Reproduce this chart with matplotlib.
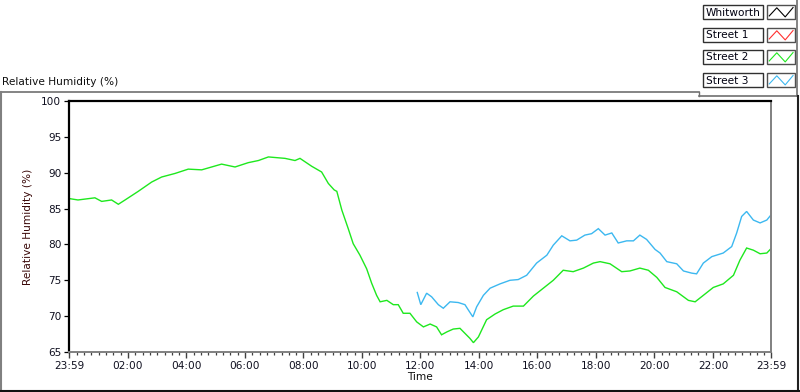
import matplotlib
matplotlib.use("Agg")
import matplotlib.pyplot as plt
from matplotlib.patches import Rectangle
from matplotlib.lines import Line2D
import numpy as np

# ---------------- data ----------------
# time in hours after 00:00 (axis spans 23:59 previous day -> 23:59)
street2_t = [-0.017, 0.29, 0.87, 1.10, 1.44, 1.67, 1.90, 2.35, 2.81, 3.15, 3.61, 4.06, 4.52,
             4.86, 5.20, 5.66, 6.11, 6.46, 6.80, 7.37, 7.71, 7.88, 8.28, 8.62, 8.85, 9.05,
             9.14, 9.31, 9.53, 9.70, 9.93, 10.16, 10.33, 10.50, 10.62, 10.85, 11.07, 11.24,
             11.41, 11.64, 11.87, 12.10, 12.33, 12.55, 12.72, 12.90, 13.12, 13.35, 13.52,
             13.69, 13.81, 13.98, 14.26, 14.55, 14.83, 15.17, 15.52, 15.86, 16.20, 16.54,
             16.88, 17.22, 17.57, 17.91, 18.14, 18.48, 18.88, 19.16, 19.50, 19.79, 20.08,
             20.36, 20.76, 21.16, 21.39, 21.67, 22.01, 22.35, 22.70, 22.92, 23.15, 23.38,
             23.61, 23.84, 23.98]
street2_rh = [86.4, 86.2, 86.5, 86.0, 86.2, 85.6, 86.2, 87.4, 88.7, 89.4, 89.9, 90.5, 90.4,
              90.8, 91.2, 90.8, 91.4, 91.7, 92.2, 92.0, 91.7, 92.0, 90.9, 90.1, 88.5, 87.6,
              87.4, 84.8, 82.2, 80.1, 78.5, 76.6, 74.6, 72.9, 72.0, 72.2, 71.6, 71.6,
              70.4, 70.4, 69.2, 68.5, 68.9, 68.5, 67.4, 67.8, 68.2, 68.3, 67.6,
              66.9, 66.3, 67.1, 69.5, 70.3, 70.9, 71.4, 71.4, 72.8, 73.9, 75.0,
              76.4, 76.2, 76.7, 77.4, 77.6, 77.3, 76.2, 76.3, 76.7, 76.4, 75.4,
              74.0, 73.4, 72.2, 72.0, 72.9, 74.0, 74.5, 75.7, 77.8, 79.5, 79.2,
              78.7, 78.8, 79.4]

street3_t = [11.89, 12.01, 12.21, 12.38, 12.61, 12.78, 13.01, 13.29, 13.52, 13.63, 13.79,
             13.92, 14.15, 14.38, 14.72, 15.06, 15.34, 15.63, 15.97, 16.32, 16.54, 16.83,
             17.11, 17.34, 17.62, 17.85, 18.08, 18.31, 18.54, 18.76, 19.05, 19.28, 19.50,
             19.73, 20.02, 20.19, 20.42, 20.76, 20.99, 21.27, 21.44, 21.67, 21.96, 22.35,
             22.64, 22.81, 22.98, 23.15, 23.38, 23.61, 23.84, 23.98]
street3_rh = [73.3, 71.6, 73.2, 72.7, 71.6, 71.1, 72.0, 71.9, 71.6, 70.9, 69.9,
              71.3, 72.9, 73.9, 74.5, 75.0, 75.1, 75.7, 77.4, 78.5, 79.9, 81.2,
              80.5, 80.6, 81.3, 81.5, 82.2, 81.3, 81.6, 80.2, 80.5, 80.5, 81.3,
              80.7, 79.3, 78.8, 77.6, 77.3, 76.3, 76.0, 75.9, 77.4, 78.3, 78.8,
              79.7, 81.6, 83.9, 84.6, 83.4, 83.0, 83.4, 84.1]

whitworth_t, whitworth_rh = [], []
street1_t, street1_rh = [], []

series_names = ["Whitworth", "Street 1", "Street 2", "Street 3"]
series_colors = ["#000000", "#ff3030", "#1ee81e", "#3cb8f0"]

x_major = [-1 / 60, 2, 4, 6, 8, 10, 12, 14, 16, 18, 20, 22, 24 - 1 / 60]
x_labels = ["23:59", "02:00", "04:00", "06:00", "08:00", "10:00", "12:00",
            "14:00", "16:00", "18:00", "20:00", "22:00", "23:59"]
y_ticks = [65, 70, 75, 80, 85, 90, 95, 100]

# ---------------- figure ----------------
W, H = 800, 392
fig = plt.figure(figsize=(W / 100, H / 100), dpi=100)
fig.patch.set_facecolor("white")
FONT = "DejaVu Sans"


def fx(px):
    return px / W


def fy(py):
    return 1 - py / H


ax = fig.add_axes([fx(69), fy(352), fx(771) - fx(69), fy(101) - fy(352)])
ax.set_facecolor("white")

all_t = [whitworth_t, street1_t, street2_t, street3_t]
all_v = [whitworth_rh, street1_rh, street2_rh, street3_rh]
for t, v, c in zip(all_t, all_v, series_colors):
    ax.plot(t, v, color=c, lw=1.0, solid_joinstyle="miter")

ax.set_xlim(-1 / 60, 24 - 1 / 60)
ax.set_ylim(65, 100)

ax.set_xticks(x_major)
ax.set_xticklabels(x_labels, fontsize=7.6, family=FONT, color="#101020")
ax.set_xticks(np.arange(0.25, 24, 0.25), minor=True)
ax.set_yticks(y_ticks)
ax.set_yticklabels([str(v) for v in y_ticks], fontsize=7.6, family=FONT, color="#101020")

ax.tick_params(axis="x", which="major", direction="out", length=4.5, width=1.0,
               color="#404040", pad=2)
ax.tick_params(axis="x", which="minor", direction="out", length=2.5, width=0.9,
               color="#404040")
ax.tick_params(axis="y", which="major", direction="out", length=3.5, width=0.9,
               color="#000000", pad=2)

for s in ["left", "top"]:
    ax.spines[s].set_color("black")
    ax.spines[s].set_linewidth(1.6)
for s in ["right", "bottom"]:
    ax.spines[s].set_color("#808080")
    ax.spines[s].set_linewidth(1.4)

ax.set_xlabel("Time", fontsize=7.6, family=FONT, color="#101010", labelpad=1)
ax.set_ylabel("Relative Humidity (%)", fontsize=7.6, family=FONT, color="#3a0808",
              labelpad=6)

# title above the graph
fig.text(fx(2), fy(82), "Relative Humidity (%)", fontsize=7.6, family=FONT,
         color="#101010", ha="left", va="center")

# frame lines (LabVIEW style panel)
frame = [
    ((0, 699), (92, 92), "#707070", 1.2),
    ((699, 699), (92, 96), "#707070", 1.0),
    ((699, 797), (96, 96), "#707070", 1.2),
    ((797, 797), (0, 96), "#707070", 1.2),
    ((1, 1), (92, 392), "#808080", 1.5),
    ((798, 798), (96, 392), "#202020", 1.5),
    ((0, 800), (390.5, 390.5), "#101010", 1.5),
]
for xs, ys, c, lw in frame:
    fig.add_artist(Line2D([fx(xs[0]), fx(xs[1])], [fy(ys[0]), fy(ys[1])],
                          transform=fig.transFigure, color=c, lw=lw))

# legend (plot legend panel)
row_top = [5, 28, 50, 73]
row_h = 14
for name, c, top in zip(series_names, series_colors, row_top):
    fig.add_artist(Rectangle((fx(703), fy(top + row_h)), fx(763) - fx(703),
                             fy(top) - fy(top + row_h), transform=fig.transFigure,
                             facecolor="white", edgecolor="#303030", lw=1.0))
    fig.text(fx(706), fy(top + row_h / 2 + 0.5), name, fontsize=7.6, family=FONT,
             color="#000010", ha="left", va="center")
    bx0, bx1 = 767, 795
    fig.add_artist(Rectangle((fx(bx0), fy(top + row_h)), fx(bx1) - fx(bx0),
                             fy(top) - fy(top + row_h), transform=fig.transFigure,
                             facecolor="white", edgecolor="#505050", lw=1.0))
    zx = [0.08, 0.35, 0.65, 0.93]
    zy = [0.22, 0.8, 0.15, 0.82]
    fig.add_artist(Line2D([fx(bx0 + z * (bx1 - bx0)) for z in zx],
                          [fy(top + row_h) + z * (fy(top) - fy(top + row_h)) for z in zy],
                          transform=fig.transFigure, color=c, lw=0.8))

fig.savefig("out.png", dpi=100, facecolor="white")
